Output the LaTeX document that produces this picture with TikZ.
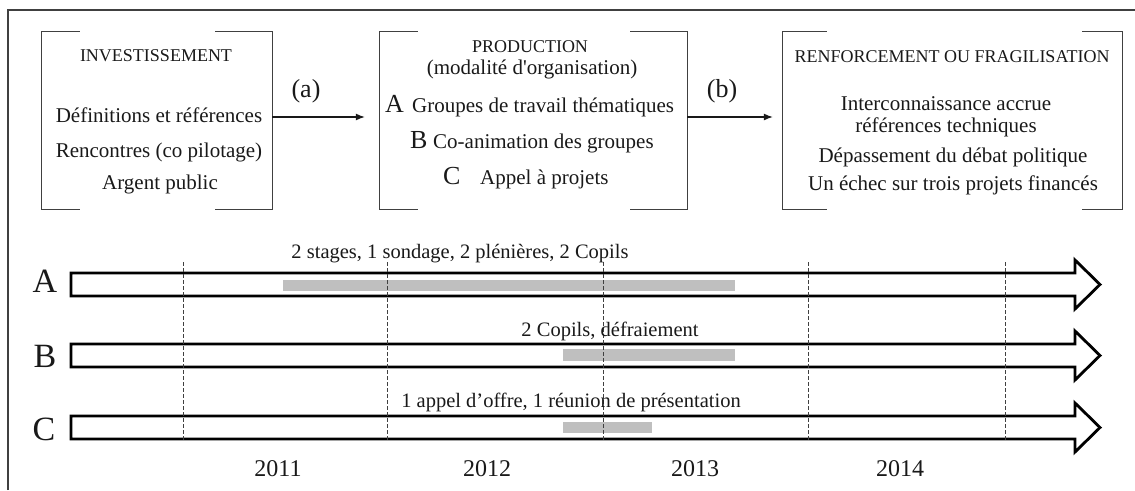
\documentclass[tikz,border=0pt]{standalone}
\usepackage{fontspec}
\setmainfont{Liberation Serif}
\usetikzlibrary{arrows.meta}
\begin{document}
\begin{tikzpicture}[x=1pt,y=-1pt,
  txt/.style={inner sep=0pt, anchor=base, text=black!90},
  hd/.style={txt, font=\fontsize{18}{22}\selectfont},
  bd/.style={txt, font=\fontsize{21}{25}\selectfont},
  tl/.style={txt, font=\fontsize{20.5}{24}\selectfont},
  yr/.style={txt, font=\fontsize{24}{28}\selectfont},
  biglab/.style={txt, font=\fontsize{34}{40}\selectfont},
  midlab/.style={txt, font=\fontsize{26}{30}\selectfont},
  boxarea/.style={inner sep=0pt, minimum height=177pt},
  bracket/.style={draw=black!75, line width=1.2pt},
  flow/.style={draw=black!90, line width=1.1pt, -{Latex[length=9pt,width=7pt]}},
  bigarrow/.style={draw=black, fill=white, line width=2.8pt, line join=miter},
  bar/.style={fill=black!25, draw=none},
  yearline/.style={draw=black!75, line width=0.9pt, dash pattern=on 3.5pt off 2.5pt}
]
\useasboundingbox (0,0) rectangle (1135,490);
% outer frame (open on right and bottom)
\draw[black!75, line width=1.4pt] (8,490) -- (8,10) -- (1135,10);

% boxes
\node[boxarea, minimum width=230pt] (box1) at (157,120.5) {};
\node[boxarea, minimum width=307pt] (box2) at (533.5,120.5) {};
\node[boxarea, minimum width=339pt] (box3) at (952.5,120.5) {};

\draw[bracket] ([xshift=38pt]box1.north west) -- (box1.north west) -- (box1.south west) -- ([xshift=38pt]box1.south west);
\draw[bracket] ([xshift=-57pt]box1.north east) -- (box1.north east) -- (box1.south east) -- ([xshift=-57pt]box1.south east);
\draw[bracket] ([xshift=38pt]box2.north west) -- (box2.north west) -- (box2.south west) -- ([xshift=38pt]box2.south west);
\draw[bracket] ([xshift=-57pt]box2.north east) -- (box2.north east) -- (box2.south east) -- ([xshift=-57pt]box2.south east);
\draw[bracket] ([xshift=44pt]box3.north west) -- (box3.north west) -- (box3.south west) -- ([xshift=44pt]box3.south west);
\draw[bracket] ([xshift=-40pt]box3.north east) -- (box3.north east) -- (box3.south east) -- ([xshift=-40pt]box3.south east);

% box 1 text
\node[hd] (t1h) at (156,61) {INVESTISSEMENT};
\node[bd] (t1a) at (159,122) {Définitions et références};
\node[bd] (t1b) at (159,157) {Rencontres (co pilotage)};
\node[bd] (t1c) at (160,189) {Argent public};

% box 2 text
\node[hd] (t2h) at (530,52) {PRODUCTION};
\node[bd] (t2s) at (532,74) {(modalité d\textquotesingle organisation)};
\node[midlab, anchor=base west] (t2A) at (385,112) {A};
\node[bd, anchor=base west] (t2a) at (412,112) {Groupes de travail thématiques};
\node[midlab, anchor=base west] (t2B) at (410,148) {B};
\node[bd, anchor=base west] (t2b) at (433,148) {Co-animation des groupes};
\node[midlab, anchor=base west] (t2C) at (443,184) {C};
\node[bd, anchor=base west] (t2c) at (480,184) {Appel à projets};

% box 3 text
\node[hd] (t3h) at (952,62) {RENFORCEMENT OU FRAGILISATION};
\node[bd] (t3a) at (946,110) {Interconnaissance accrue};
\node[bd] (t3b) at (946,132) {références techniques};
\node[bd] (t3c) at (953,162) {Dépassement du débat politique};
\node[bd] (t3d) at (953,190) {Un échec sur trois projets financés};

% flow arrows
\node[midlab] (la) at (306,97) {(a)};
\node[midlab] (lb) at (722,97) {(b)};
\draw[flow, shorten >=15pt] ([yshift=3.5pt]box1.east) -- ([yshift=3.5pt]box2.west);
\draw[flow, shorten >=10pt] ([yshift=3.5pt]box2.east) -- ([yshift=3.5pt]box3.west);

% timeline arrows
\foreach \yy/\nm in {284.5/A,355.5/B,427.5/C}{
  \draw[bigarrow] (71,\yy-11.5) -- (1075,\yy-11.5) -- (1075,\yy-24.5) -- (1100,\yy)
     -- (1075,\yy+24.5) -- (1075,\yy+11.5) -- (71,\yy+11.5) -- cycle;
}
\node[biglab] (lA) at (45,292) {A};
\node[biglab] (lB) at (45,367) {B};
\node[biglab] (lC) at (44,440) {C};

% grey activity bars
\fill[bar] (283,279.5) rectangle (735,290.5);
\fill[bar] (563,349) rectangle (735,361);
\fill[bar] (563,422) rectangle (652,433);

% year separators
\foreach \xx in {183,387,603,808,1005}{
  \draw[yearline] (\xx,262) -- (\xx,440);
}

% timeline labels
\node[tl] (ta) at (460,258) {2 stages, 1 sondage, 2 plénières, 2 Copils};
\node[tl] (tb) at (610,336) {2 Copils, défraiement};
\node[tl] (tc) at (571,407) {1 appel d’offre, 1 réunion de présentation};

\node[yr] (y1) at (278,476) {2011};
\node[yr] (y2) at (487,476) {2012};
\node[yr] (y3) at (695,476) {2013};
\node[yr] (y4) at (900,476) {2014};
\end{tikzpicture}
\end{document}
